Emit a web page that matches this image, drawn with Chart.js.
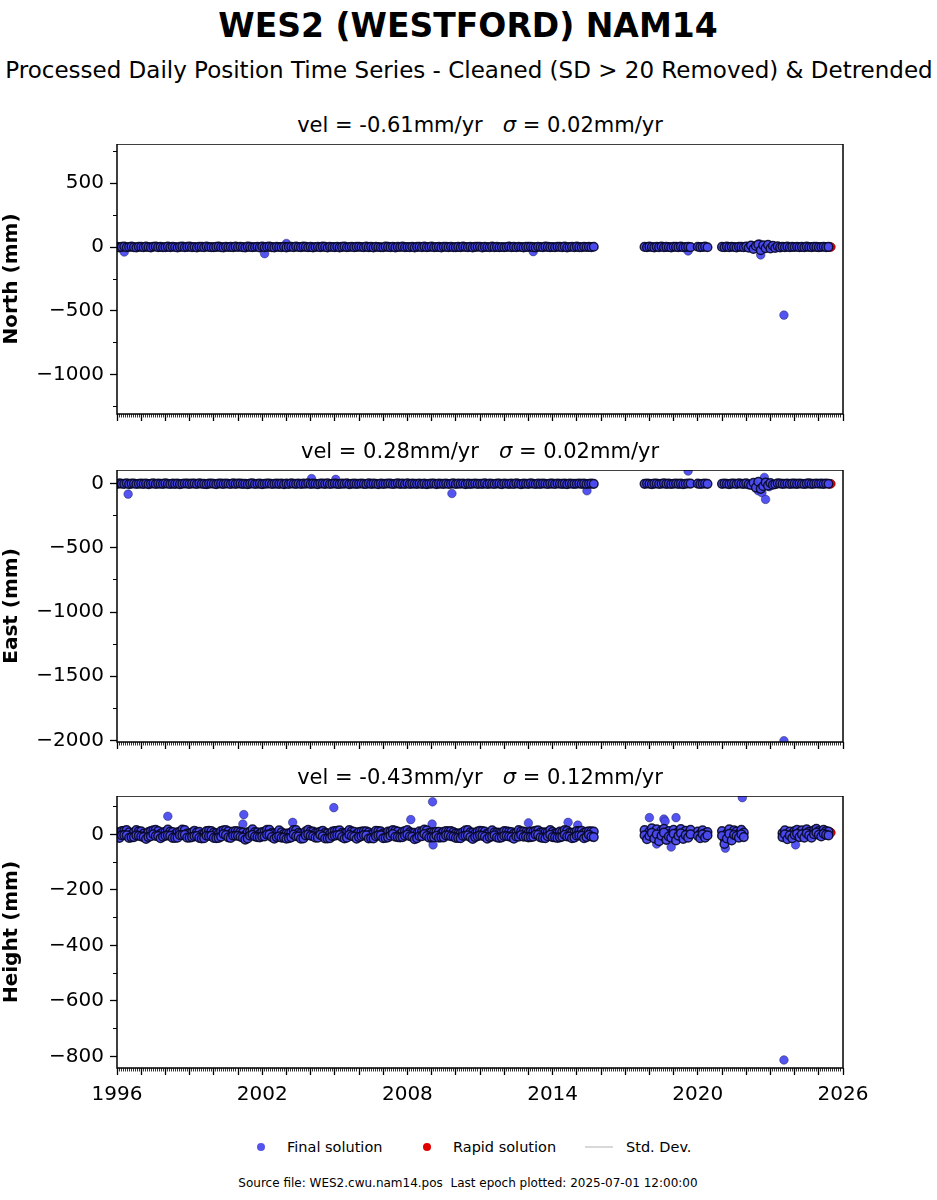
<!DOCTYPE html>
<html lang="en">
<head>
    <meta charset="UTF-8">
    <title>WES2 (WESTFORD) NAM14</title>
    <script src="https://cdn.jsdelivr.net/npm/chart.js@4"></script>
    <style>
        body { margin: 0; background: #fff; font-family: "DejaVu Sans", sans-serif; }
        #page { position: relative; width: 937px; height: 1200px; }
        canvas { position: absolute; left: 0; }
        .txt { position: absolute; white-space: pre; color: #000; transform: translate(-50%, -50%); }
        .dot { position: absolute; width: 8px; height: 8px; border-radius: 50%; transform: translate(-50%, -50%); }
    </style>
</head>
<body>
<div id="page">
    <div class="txt" style="left:468px; top:25px; font-size:33px; font-weight:bold;">WES2 (WESTFORD) NAM14</div>
    <div class="txt" style="left:469px; top:70px; font-size:23px;">Processed Daily Position Time Series - Cleaned (SD &gt; 20 Removed) &amp; Detrended</div>

    <div class="txt" style="left:480px; top:125px; font-size:21px;">vel = -0.61mm/yr   <i>σ</i> = 0.02mm/yr</div>
    <canvas id="northChart" width="937" height="300" style="top:144px"></canvas>

    <div class="txt" style="left:480px; top:451px; font-size:21px;">vel = 0.28mm/yr   <i>σ</i> = 0.02mm/yr</div>
    <canvas id="eastChart" width="937" height="302" style="top:470px"></canvas>

    <div class="txt" style="left:480px; top:777px; font-size:21px;">vel = -0.43mm/yr   <i>σ</i> = 0.12mm/yr</div>
    <canvas id="upChart" width="937" height="322" style="top:796px"></canvas>

    <!-- legend -->
    <div class="dot" style="left:261px; top:1147px; background:#5555ee;"></div>
    <div class="txt" style="left:287px; top:1147px; font-size:14.5px; transform:translate(0,-50%);">Final solution</div>
    <div class="dot" style="left:427px; top:1147px; background:#e00000;"></div>
    <div class="txt" style="left:453px; top:1147px; font-size:14.5px; transform:translate(0,-50%);">Rapid solution</div>
    <div style="position:absolute; left:585px; top:1146px; width:28px; height:1.5px; background:#d8d8d8;"></div>
    <div class="txt" style="left:626px; top:1147px; font-size:14.5px; transform:translate(0,-50%);">Std. Dev.</div>

    <div class="txt" style="left:468px; top:1183px; font-size:12px;">Source file: WES2.cwu.nam14.pos  Last epoch plotted: 2025-07-01 12:00:00</div>
</div>

<script>
    // epochs (decimal years) of the plotted final solutions
    const epochs = [
        1996.0,1996.1,1996.2,1996.3,1996.4,1996.5,1996.6,1996.7,1996.8,1996.9,
        1997.0,1997.1,1997.2,1997.3,1997.4,1997.5,1997.6,1997.7,1997.8,1997.9,
        1998.0,1998.1,1998.2,1998.3,1998.4,1998.5,1998.6,1998.7,1998.8,1998.9,
        1999.0,1999.1,1999.2,1999.3,1999.4,1999.5,1999.6,1999.7,1999.8,1999.9,
        2000.0,2000.1,2000.2,2000.3,2000.4,2000.5,2000.6,2000.7,2000.8,2000.9,
        2001.0,2001.1,2001.2,2001.3,2001.4,2001.5,2001.6,2001.7,2001.8,2001.9,
        2002.0,2002.1,2002.2,2002.3,2002.4,2002.5,2002.6,2002.7,2002.8,2002.9,
        2003.0,2003.1,2003.2,2003.3,2003.4,2003.5,2003.6,2003.7,2003.8,2003.9,
        2004.0,2004.1,2004.2,2004.3,2004.4,2004.5,2004.6,2004.7,2004.8,2004.9,
        2005.0,2005.1,2005.2,2005.3,2005.4,2005.5,2005.6,2005.7,2005.8,2005.9,
        2006.0,2006.1,2006.2,2006.3,2006.4,2006.5,2006.6,2006.7,2006.8,2006.9,
        2007.0,2007.1,2007.2,2007.3,2007.4,2007.5,2007.6,2007.7,2007.8,2007.9,
        2008.0,2008.1,2008.2,2008.3,2008.4,2008.5,2008.6,2008.7,2008.8,2008.9,
        2009.0,2009.1,2009.2,2009.3,2009.4,2009.5,2009.6,2009.7,2009.8,2009.9,
        2010.0,2010.1,2010.2,2010.3,2010.4,2010.5,2010.6,2010.7,2010.8,2010.9,
        2011.0,2011.1,2011.2,2011.3,2011.4,2011.5,2011.6,2011.7,2011.8,2011.9,
        2012.0,2012.1,2012.2,2012.3,2012.4,2012.5,2012.6,2012.7,2012.8,2012.9,
        2013.0,2013.1,2013.2,2013.3,2013.4,2013.5,2013.6,2013.7,2013.8,2013.9,
        2014.0,2014.1,2014.2,2014.3,2014.4,2014.5,2014.6,2014.7,2014.8,2014.9,
        2015.0,2015.1,2015.2,2015.3,2015.4,2015.5,2015.6,2015.7,
        2017.8,2017.9,
        2018.0,2018.1,2018.2,2018.3,2018.4,2018.5,2018.6,2018.7,2018.8,2018.9,
        2019.0,2019.1,2019.2,2019.3,2019.4,2019.5,2019.6,2019.7,
        2020.0,2020.1,2020.2,2020.3,2020.4,
        2021.0,2021.1,2021.2,2021.3,2021.4,2021.5,2021.6,2021.7,2021.8,2021.9,
        2022.0,2022.1,2022.2,2022.3,2022.4,2022.5,2022.6,2022.7,2022.8,2022.9,
        2023.0,2023.1,2023.2,2023.3,2023.4,2023.5,2023.6,2023.7,2023.8,2023.9,
        2024.0,2024.1,2024.2,2024.3,2024.4,2024.5,2024.6,2024.7,2024.8,2024.9,
        2025.0,2025.1,2025.2,2025.3,2025.4
    ];

    // North (mm), same order as epochs
    const north = [
        2,-3,1,4,-2,0,3,-1,-4,2,
        1,-2,3,0,-3,2,4,-1,1,-2,
        -1,3,-2,2,0,-4,1,3,-2,1,
        3,-1,0,-3,2,1,-2,4,0,-1,
        -2,1,3,-1,-3,2,0,1,-2,3,
        0,2,-1,-4,3,1,-2,0,2,-3,
        4,-2,1,3,-1,-3,2,0,-1,2,
        -3,1,2,-2,4,0,-1,3,1,-2,
        1,-3,0,2,-2,3,1,-4,2,0,
        -1,2,-3,1,3,-2,0,2,-1,1,
        2,0,-2,3,-1,1,-3,2,0,-2,
        -2,3,1,-1,2,-3,1,0,3,-1,
        0,-1,2,-3,1,2,-2,3,-1,0,
        3,-2,0,1,-3,2,1,-1,2,-2,
        -1,1,-2,3,0,-1,2,-3,1,2,
        2,-3,1,0,-2,3,-1,1,-2,0,
        -2,0,3,-1,1,-2,2,0,-3,1,
        1,2,-1,-3,2,0,-2,3,1,-1,
        0,-2,2,1,-1,3,-3,0,2,-2,
        3,-1,-2,2,0,1,-1,2,
        1,-2,
        3,0,-3,2,-1,4,-2,1,0,-3,
        2,1,-1,3,-2,0,2,-1,
        2,-1,0,3,-2,
        1,-2,3,-1,2,0,-3,2,1,-2,
        4,-6,12,-15,8,20,-25,14,-10,18,
        -12,10,-8,6,-3,2,-1,3,-2,1,
        0,2,-1,1,-2,3,0,-1,2,1,
        -1,0,2,-1,1
    ];

    // East (mm)
    const east = [
        -2,3,0,-1,4,-3,1,2,-2,0,
        1,-1,2,-3,0,3,-2,1,0,-1,
        3,0,-2,1,-1,2,-3,0,2,1,
        -1,2,1,-2,3,0,-1,-3,1,2,
        0,-3,2,1,-1,2,0,-2,3,-1,
        2,1,-1,0,-3,1,3,-2,0,1,
        -3,0,1,2,-2,0,1,-1,2,-3,
        1,-2,3,0,-1,2,-2,1,0,3,
        -2,1,0,-3,2,1,-1,3,-2,0,
        2,-1,-2,1,0,3,-3,0,1,-1,
        0,2,-1,-2,3,-1,1,0,-3,2,
        -1,0,2,1,-2,0,3,-1,1,-2,
        3,-2,1,0,-1,2,-2,1,-3,0,
        1,2,-3,1,0,-1,2,-2,0,3,
        -2,1,0,2,-3,1,-1,0,2,-1,
        0,-1,3,-2,1,0,-2,2,1,-3,
        2,0,-1,1,-2,3,0,-3,1,0,
        -1,3,0,-2,1,-1,2,0,-2,1,
        1,-2,2,0,-1,1,-3,2,0,-1,
        0,2,-1,1,-2,0,1,-1,
        -1,2,
        0,-3,1,2,-2,0,3,-1,1,-2,
        0,2,-1,1,-3,0,2,1,
        1,-2,0,2,-1,
        -1,2,0,-3,1,2,-2,3,0,-1,
        3,-5,-10,8,-30,15,-40,-20,10,-15,
        6,-8,-4,3,2,-1,0,2,-2,1,
        1,-1,2,0,-2,1,3,-1,0,2,
        0,1,-1,2,0
    ];

    // Height (mm), upper part of the daily scatter; null = removed
    const up = [
        8,3,12,13,15,7,-1,7,15,11,
        11,3,-3,8,12,14,16,12,2,7,
        9,17,10,8,0,7,10,17,15,3,
        4,6,13,7,9,0,1,12,13,12,
        6,4,2,12,14,15,11,1,10,12,
        11,8,6,-3,7,10,18,8,7,2,
        8,10,16,16,5,4,2,14,7,2,
        3,3,7,15,15,5,3,1,11,16,
        11,10,5,6,9,13,5,4,1,10,
        12,13,14,5,4,6,15,11,9,1,
        8,10,11,11,7,1,3,13,12,11,
        4,3,10,10,15,13,10,0,9,12,
        15,8,5,5,3,11,10,17,14,5,
        7,7,9,9,3,9,12,11,12,8,
        4,3,4,8,14,15,7,6,3,10,
        13,12,10,3,5,14,7,6,5,6,
        12,11,9,8,3,5,15,11,10,8,
        5,10,10,13,14,7,7,6,8,15,
        9,4,4,10,9,15,13,6,5,6,
        12,12,13,5,9,11,11,10,
        15,-2,
        10,22,0,18,-8,14,20,-4,12,3,
        16,-6,10,19,-2,13,2,16,
        10,2,14,4,8,
        12,-15,3,18,-2,14,10,2,16,6,
        null,null,null,null,null,null,null,null,null,null,
        null,null,null,null,null,4,14,-2,10,2,
        12,16,6,14,2,18,10,3,14,20,
        12,6,16,12,10
    ];

    // Height (mm), lower part of the daily scatter
    const up2 = [
        -7,-13,-4,-3,-4,-13,-11,-10,-4,-5,
        -8,-10,-17,-10,-7,0,-6,-6,-14,-9,
        -5,-4,-5,-13,-13,-12,-3,-3,-2,-12,
        -12,-10,-7,-6,-13,-15,-14,-5,-6,-5,
        -13,-14,-13,-9,1,-3,-11,-13,-5,-5,
        -5,-9,-12,-19,-15,-5,-2,-8,-10,-11,
        -8,-8,-1,-1,-10,-16,-10,-7,-12,-12,
        -16,-14,-11,-1,-7,-8,-16,-15,-4,-1,
        -5,-7,-12,-12,-2,-7,-15,-15,-14,-7,
        -5,-3,-3,-10,-15,-12,-2,-6,-9,-16,
        -10,-7,-3,-4,-15,-14,-15,-7,-4,-4,
        -14,-13,-11,-5,1,-9,-10,-11,-10,-5,
        -1,-7,-9,-18,-14,-7,-7,1,-6,-12,
        -11,-11,-5,-12,-11,-11,-4,-4,-7,-9,
        -13,-13,-14,-6,-5,-4,-10,-17,-10,-7,
        -4,-5,-9,-16,-10,-8,-4,-11,-13,-11,
        -6,-6,-8,-10,-16,-8,-9,-3,-9,-8,
        -11,-10,-9,-1,-2,-11,-13,-14,-7,-2,
        -10,-11,-13,-11,-9,-2,-8,-8,-14,-12,
        -5,-4,-5,-14,-10,-2,-8,-10,
        -4,-18,
        -6,5,-15,0,-25,-5,6,-20,-8,-12,
        2,-22,-5,4,-17,-3,-12,0,
        -6,-14,0,-12,-4,
        -5,-35,-15,2,-22,-2,-6,-12,0,-10,
        null,null,null,null,null,null,null,null,null,null,
        null,null,null,null,null,-10,0,-18,-4,-14,
        -2,2,-10,0,-12,4,-4,-12,0,6,
        -2,-8,2,-2,-4
    ];

    // isolated final-solution points
    const northOutT = [1996.3, 2002.1, 2003.0, 2013.2, 2019.6, 2022.55, 2022.6, 2023.56];
    const northOutV = [-39, -52, 28, -36, -31, 24, -62, -532];
    const eastOutT = [1996.46, 2004.04, 2005.04, 2009.84, 2015.42, 2019.6, 2022.5, 2022.65, 2022.75, 2022.8, 2022.95, 2023.56];
    const eastOutV = [-81, 40, 34, -76, -55, 99, -55, -70, 49, -122, -23, -2003];
    const upOutT = [1998.1, 2001.2, 2001.24, 2003.26, 2004.96, 2008.14, 2009.02, 2009.04, 2009.06, 2013.0, 2014.64, 2015.04,
                    2018.0, 2018.3, 2018.6, 2018.65, 2018.9, 2019.1, 2021.14, 2021.84, 2023.56, 2024.04];
    const upOutV = [65, 37, 71, 43, 96, 53, 37, 117, -38, 41, 43, 33,
                    60, -35, 55, 47, -46, 60, -50, 132, -813, -38];

    // rapid solutions at the end of the series
    const rapidT = [2025.42, 2025.46, 2025.5];
    const rapidNorth = [0, 1, 0];
    const rapidEast = [0, -1, 0];
    const rapidUp = [5, 8, 6];

    const FONT = 'DejaVu Sans';

    function toPoints(ts, vs) {
        const pts = [];
        ts.forEach((t, i) => { if (vs[i] !== null) pts.push({ x: t, y: vs[i] }); });
        return pts;
    }

    function minusLabel(v) {
        return v < 0 ? '\u2212' + Math.abs(v) : String(v);
    }

    // ticks every `step` inside [min, max]
    function stepTicks(step) {
        return scale => {
            const out = [];
            const first = Math.ceil(scale.min / step - 1e-9);
            const last = Math.floor(scale.max / step + 1e-9);
            for (let k = first; k <= last; k++) out.push({ value: k * step });
            scale.ticks = out;
        };
    }

    const framePlugin = {
        id: 'frame',
        afterDraw(chart) {
            const a = chart.chartArea;
            const ctx = chart.ctx;
            ctx.save();
            ctx.strokeStyle = '#000';
            ctx.lineWidth = 1.5;
            ctx.strokeRect(a.left, a.top, a.right - a.left, a.bottom - a.top);
            ctx.restore();
        }
    };

    function makePanel(id, seriesList, outT, outV, rapidV, yMin, yMax, major, minor, label, showYears, xHeight) {
        let bandPts = [];
        seriesList.forEach(vals => { bandPts = bandPts.concat(toPoints(epochs, vals)); });
        return new Chart(document.getElementById(id), {
            type: 'scatter',
            data: {
                datasets: [{
                    label: 'Final solution',
                    data: bandPts,
                    pointRadius: 4.3,
                    pointBackgroundColor: 'rgba(75,75,240,0.95)',
                    pointBorderColor: 'rgba(8,8,40,0.9)',
                    pointBorderWidth: 1.5,
                    xAxisID: 'x', yAxisID: 'y'
                }, {
                    label: 'Final solution (isolated)',
                    data: toPoints(outT, outV),
                    pointRadius: 4.3,
                    pointBackgroundColor: 'rgba(75,75,240,0.95)',
                    pointBorderColor: 'rgba(20,20,70,0.7)',
                    pointBorderWidth: 0.6,
                    xAxisID: 'x', yAxisID: 'y'
                }, {
                    label: 'Rapid solution',
                    data: toPoints(rapidT, rapidV),
                    pointRadius: 4.3,
                    pointBackgroundColor: '#ff0000',
                    pointBorderColor: '#660000',
                    pointBorderWidth: 0.7,
                    xAxisID: 'x', yAxisID: 'y'
                }]
            },
            options: {
                responsive: false,
                animation: false,
                events: [],
                devicePixelRatio: 1,
                layout: { autoPadding: false, padding: { left: 0, right: 94, top: 0, bottom: 0 } },
                plugins: { legend: { display: false }, tooltip: { enabled: false } },
                scales: {
                    ym: {
                        type: 'linear', position: 'left', min: yMin, max: yMax,
                        border: { display: false },
                        grid: { drawOnChartArea: false, tickLength: 4, tickColor: '#000', tickWidth: 1 },
                        ticks: { callback: () => '' },
                        afterBuildTicks: stepTicks(minor),
                        afterFit: s => { s.width = 0; s.paddingTop = 0; s.paddingBottom = 0; }
                    },
                    xm: {
                        type: 'linear', position: 'bottom', min: 0, max: 360,
                        border: { display: false },
                        grid: { drawOnChartArea: false, tickLength: 3.5, tickColor: '#000', tickWidth: 0.8 },
                        ticks: { autoSkip: false, maxRotation: 0, callback: () => '' },
                        afterBuildTicks: stepTicks(1),
                        afterFit: s => { s.height = 0; s.paddingLeft = 0; s.paddingRight = 0; }
                    },
                    y: {
                        type: 'linear', position: 'left', min: yMin, max: yMax,
                        border: { display: false },
                        grid: { drawOnChartArea: false, tickLength: 7, tickColor: '#000', tickWidth: 1.3 },
                        ticks: {
                            padding: 6, color: '#000',
                            font: { family: FONT, size: 20 },
                            callback: v => minusLabel(v)
                        },
                        afterBuildTicks: stepTicks(major),
                        title: {
                            display: true, text: label, color: '#000', padding: { top: 0, bottom: 0 },
                            font: { family: FONT, size: 20, weight: 'bold' }
                        },
                        afterFit: s => { s.width = 117; s.paddingTop = 0; s.paddingBottom = 0; }
                    },
                    x: {
                        type: 'linear', position: 'bottom', min: 1996, max: 2026,
                        border: { display: false },
                        grid: { drawOnChartArea: false, tickLength: 7, tickColor: '#000', tickWidth: 1.3 },
                        ticks: {
                            autoSkip: false, maxRotation: 0, padding: 8, color: '#000',
                            font: { family: FONT, size: 20 },
                            callback: v => (showYears && (v - 1996) % 6 === 0) ? String(v) : ''
                        },
                        afterBuildTicks: stepTicks(1),
                        afterFit: s => { s.height = xHeight; s.paddingLeft = 0; s.paddingRight = 0; }
                    }
                }
            },
            plugins: [framePlugin]
        });
    }

    makePanel('northChart', [north], northOutT, northOutV, rapidNorth, -1305, 805, 500, 250, 'North (mm)', false, 30);
    makePanel('eastChart', [east], eastOutT, eastOutV, rapidEast, -2013, 107, 500, 250, 'East (mm)', false, 30);
    makePanel('upChart', [up, up2], upOutT, upOutV, rapidUp, -842, 138, 200, 100, 'Height (mm)', true, 50);
</script>
</body>
</html>
